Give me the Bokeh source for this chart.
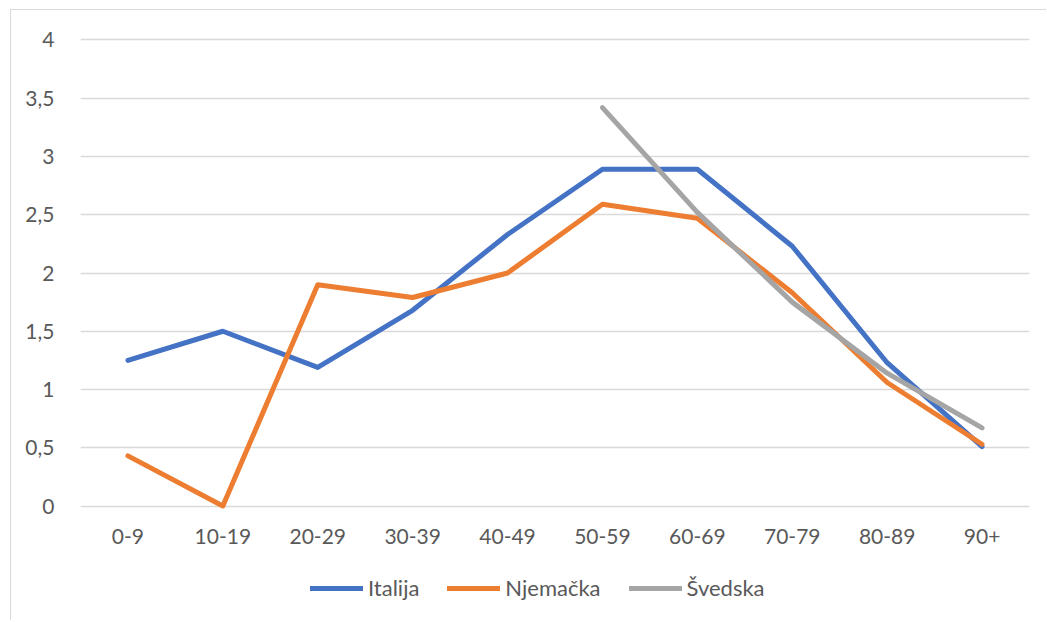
from bokeh.plotting import figure
from bokeh.layouts import column
from bokeh.models import Range1d, FixedTicker, Legend, LegendItem, FactorRange, CustomJSTickFormatter
from bokeh.embed import file_html
from bokeh.resources import INLINE

categories = ["0-9", "10-19", "20-29", "30-39", "40-49", "50-59", "60-69", "70-79", "80-89", "90+"]
italija = [1.25, 1.50, 1.19, 1.68, 2.33, 2.89, 2.89, 2.23, 1.23, 0.51]
njemacka = [0.43, 0.00, 1.90, 1.79, 2.00, 2.59, 2.47, 1.83, 1.06, 0.53]
svedska_cats = ["50-59", "60-69", "70-79", "80-89", "90+"]
svedska = [3.42, 2.52, 1.75, 1.14, 0.67]
series_names = ["Italija", "Njemačka", "Švedska"]
colors = ["#4472C4", "#ED7D31", "#A5A5A5"]
y_ticks = [0, 0.5, 1, 1.5, 2, 2.5, 3, 3.5, 4]

FONT = "Lato"
TXT = "#595959"
LW = 5

xr = FactorRange(*categories, range_padding=0)

p = figure(width=1035, height=552, x_range=xr,
           y_range=Range1d(-0.03, 4.03), output_backend="svg", toolbar_location=None,
           min_border_left=69, min_border_right=17, min_border_top=26, min_border_bottom=53)
p.outline_line_color = None

p.yaxis.ticker = FixedTicker(ticks=y_ticks)
p.yaxis.formatter = CustomJSTickFormatter(code="return String(tick).replace('.', ',');")
p.yaxis.axis_line_color = None
p.yaxis.major_tick_line_color = None
p.yaxis.minor_tick_line_color = None
p.yaxis.major_label_text_font = FONT
p.yaxis.major_label_text_font_size = "21px"
p.yaxis.major_label_text_color = TXT
p.yaxis.major_label_standoff = 20

p.xaxis.axis_line_color = None
p.xaxis.major_tick_line_color = None
p.xaxis.minor_tick_line_color = None
p.xaxis.major_label_text_font = FONT
p.xaxis.major_label_text_font_size = "21px"
p.xaxis.major_label_text_color = TXT
p.xaxis.major_label_standoff = 13

p.xgrid.grid_line_color = None
p.ygrid.grid_line_color = "#D9D9D9"
p.ygrid.grid_line_width = 1.5
p.ygrid.ticker = FixedTicker(ticks=y_ticks)

series = [(categories, italija), (categories, njemacka), (svedska_cats, svedska)]
for (xs, ys), c in zip(series, colors):
    p.line(xs, ys, line_color=c, line_width=LW, line_cap="round", line_join="round")

# legend strip below the chart (its own series sit outside its visible y range)
p2 = figure(width=1035, height=58, x_range=xr, y_range=Range1d(10, 11),
            output_backend="svg", toolbar_location=None,
            x_axis_location=None, y_axis_location=None,
            min_border_left=0, min_border_right=0, min_border_top=0, min_border_bottom=0)
p2.outline_line_color = None
p2.xgrid.grid_line_color = None
p2.ygrid.grid_line_color = None
items = []
for name, (xs, ys), c in zip(series_names, series, colors):
    r = p2.line(xs, ys, line_color=c, line_width=LW, line_cap="round")
    items.append(LegendItem(label=name, renderers=[r]))
legend = Legend(items=items, orientation="horizontal", location=(230, 19),
                glyph_width=53, glyph_height=24, label_standoff=5, spacing=28,
                label_text_font=FONT, label_text_font_size="22px", label_text_color=TXT,
                border_line_color=None, background_fill_alpha=0, padding=0, margin=0)
p2.add_layout(legend, "center")

layout = column(p, p2, spacing=0,
                styles={"border-left": "1px solid #D9D9D9", "border-top": "1px solid #D9D9D9",
                        "margin-left": "10px", "margin-top": "9px"})

open("out.html", "w").write(file_html(layout, INLINE))
